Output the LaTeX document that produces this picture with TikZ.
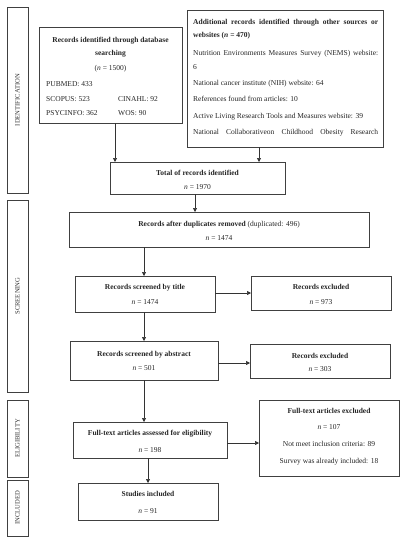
\documentclass[tikz,border=0pt]{standalone}
\usepackage{fontspec}
\setmainfont{Liberation Serif}
\usetikzlibrary{arrows.meta}
\begin{document}
\begin{tikzpicture}[x=1pt,y=1pt,
  frame/.style={draw=black!75, line width=0.8pt, inner sep=0pt, outer sep=0pt, fill=white},
  sidebar/.style={frame, minimum width=21pt},
  lbl/.style={anchor=base, inner sep=0pt, text=black!85, font=\fontsize{7.5}{8}\selectfont},
  lbll/.style={lbl, anchor=base west},
  side/.style={rotate=90, inner sep=0pt, text=black!80, font=\fontsize{6.6}{7}\selectfont},
  arr/.style={draw=black!80, line width=0.7pt, -{Triangle[length=4pt,width=4pt]}}
]
\useasboundingbox (0,0) rectangle (405,-550);

% side bars
\node[sidebar, minimum height=186pt] (id) at (17.5,-100) {};
\node[sidebar, minimum height=192pt] (scr) at (17.5,-296) {};
\node[sidebar, minimum height=77pt] (eli) at (17.5,-438.5) {};
\node[sidebar, minimum height=56pt] (inc) at (17.5,-508) {};
\node[side] (idt) at (id.center) {IDENTIFICATION};
\node[side] (scrt) at (scr.center) {SCREENING};
\node[side] (elit) at (eli.center) {ELIGIBILITY};
\node[side] (inct) at (inc.center) {INCLUDED};

% boxes
\node[frame, minimum width=143pt, minimum height=96pt] (db) at (110.5,-75) {};
\node[frame, minimum width=196pt, minimum height=137pt] (add) at (285,-78.5) {};
\node[frame, minimum width=175pt, minimum height=32pt] (total) at (197.5,-178) {};
\node[frame, minimum width=300pt, minimum height=35pt] (dup) at (219,-229.5) {};
\node[frame, minimum width=140pt, minimum height=36pt] (title) at (145,-294) {};
\node[frame, minimum width=140pt, minimum height=34pt] (ex1) at (321,-293) {};
\node[frame, minimum width=148pt, minimum height=39pt] (abs) at (144,-360.5) {};
\node[frame, minimum width=140pt, minimum height=34pt] (ex2) at (320,-361) {};
\node[frame, minimum width=154pt, minimum height=36pt] (ft) at (150,-440) {};
\node[frame, minimum width=140pt, minimum height=76pt] (ftx) at (329,-438) {};
\node[frame, minimum width=140pt, minimum height=37pt] (stud) at (148,-501.5) {};

% db texts
\node[lbl] (db1) at (110.5,-42) {\textbf{Records identified through database}};
\node[lbl] (db2) at (110.5,-55) {\textbf{searching}};
\node[lbl] (db3) at (110.5,-70) {(\textit{n} = 1500)};
\node[lbll] (db4) at (46,-86) {PUBMED: 433};
\node[lbll] (db5) at (46,-101) {SCOPUS: 523};
\node[lbll] (db6) at (46,-115) {PSYCINFO: 362};
\node[lbll] (db7) at (118,-101) {CINAHL: 92};
\node[lbll] (db8) at (118,-115) {WOS: 90};

% additional texts
\node[lbll] (a1) at (193,-24) {\makebox[185pt][s]{\textbf{Additional records identified through other sources or}}};
\node[lbll] (a2) at (193,-37) {\textbf{websites (\textit{n} = 470)}};
\node[lbll] (a3) at (193,-55) {\makebox[185pt][s]{Nutrition Environments Measures Survey (NEMS) website:}};
\node[lbll] (a4) at (193,-69) {6};
\node[lbll] (a5) at (193,-85) {National cancer institute (NIH) website: 64};
\node[lbll] (a6) at (193,-101) {References found from articles: 10};
\node[lbll] (a7) at (193,-118) {Active Living Research Tools and Measures website: 39};
\node[lbll] (a8) at (193,-134) {\makebox[185pt][s]{National Collaborativeon Childhood Obesity Research}};

% other texts
\node[lbl] (t1) at (197.5,-175) {\textbf{Total of records identified}};
\node[lbl] (t2) at (197.5,-189) {\textit{n} = 1970};
\node[lbl] (d1) at (219,-226) {\textbf{Records after duplicates removed} (duplicated: 496)};
\node[lbl] (d2) at (219,-240) {\textit{n} = 1474};
\node[lbl] (ti1) at (145,-289) {\textbf{Records screened by title}};
\node[lbl] (ti2) at (145,-304) {\textit{n} = 1474};
\node[lbl] (e11) at (321,-289) {\textbf{Records excluded}};
\node[lbl] (e12) at (321,-304) {\textit{n} = 973};
\node[lbl] (ab1) at (144,-356) {\textbf{Records screened by abstract}};
\node[lbl] (ab2) at (144,-370) {\textit{n} = 501};
\node[lbl] (e21) at (320,-358) {\textbf{Records excluded}};
\node[lbl] (e22) at (320,-371) {\textit{n} = 303};
\node[lbl] (f1) at (150,-435) {\textbf{Full-text articles assessed for eligibility}};
\node[lbl] (f2) at (150,-452) {\textit{n} = 198};
\node[lbl] (fx1) at (329,-413) {\textbf{Full-text articles excluded}};
\node[lbl] (fx2) at (329,-429) {\textit{n} = 107};
\node[lbl] (fx3) at (329,-446) {Not meet inclusion criteria: 89};
\node[lbl] (fx4) at (329,-463) {Survey was already included: 18};
\node[lbl] (s1) at (148,-496) {\textbf{Studies included}};
\node[lbl] (s2) at (148,-513) {\textit{n} = 91};

% connectors
\draw[arr] (db.south -| 115,0) -- (total.north -| 115,0);
\draw[arr] (add.south -| 259,0) -- (total.north -| 259,0);
\draw[arr] (total.south -| 195,0) -- (dup.north -| 195,0);
\draw[arr] (dup.south -| 144,0) -- (title.north -| 144,0);
\draw[arr] (title.south -| 144,0) -- (abs.north -| 144,0);
\draw[arr] (abs.south -| 144,0) -- (ft.north -| 144,0);
\draw[arr] (ft.south -| 148,0) -- (stud.north -| 148,0);
\draw[arr] (title.east |- 0,-293) -- (ex1.west |- 0,-293);
\draw[arr] (abs.east |- 0,-363) -- (ex2.west |- 0,-363);
\draw[arr] (ft.east |- 0,-443) -- (ftx.west |- 0,-443);
\end{tikzpicture}
\end{document}
